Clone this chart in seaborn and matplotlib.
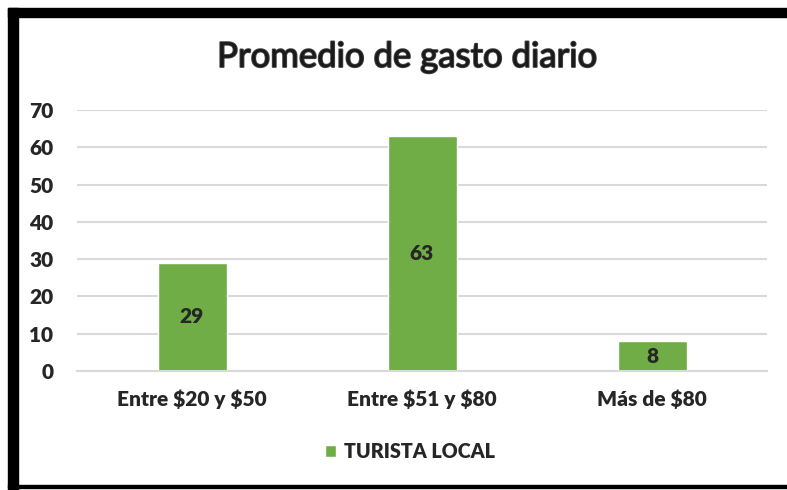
import numpy as np
import pandas as pd
import matplotlib.pyplot as plt
import matplotlib.patheffects as pe
from matplotlib.patches import Rectangle
import seaborn as sns

# Data
categories = ['Entre $20 y $50', 'Entre $51 y $80', 'Más de $80']
values = [29, 63, 8]
series = 'TURISTA LOCAL'

df = pd.DataFrame({'rango': categories, 'valor': values, 'serie': series})

sns.set_style('white')
plt.rcParams['font.family'] = ['Lato', 'DejaVu Sans']

fig = plt.figure(figsize=(7.87, 4.9), dpi=100)
ax = fig.add_axes([77 / 787, 1 - 371 / 490, 690 / 787, 261 / 490])

green = '#70AD47'
sns.barplot(data=df, x='rango', y='valor', hue='serie', palette=[green],
            width=0.3, ax=ax, saturation=1, legend=True)

ax.set_ylim(0, 70)
ax.set_xlim(-0.5, 2.5)
ax.set_yticks(np.arange(0, 71, 10))
ax.yaxis.grid(True, color='#D9D9D9', linewidth=1.5)
ax.set_axisbelow(True)
for s in ['top', 'right', 'left']:
    ax.spines[s].set_visible(False)
ax.spines['bottom'].set_color('#D9D9D9')
ax.spines['bottom'].set_linewidth(1.5)
ax.set_xlabel('')
ax.set_ylabel('')
ax.tick_params(axis='y', length=0, pad=17, labelsize=15)
ax.tick_params(axis='x', length=0, pad=13, labelsize=15)
for lbl in ax.get_xticklabels() + ax.get_yticklabels():
    lbl.set_fontweight('heavy')
    lbl.set_parse_math(False)

# value labels in middle of bars
for bars in ax.containers:
    ax.bar_label(bars, label_type='center', fontsize=15, fontweight='heavy')

# legend below
ax.legend(handles=ax.get_legend_handles_labels()[0], labels=[series],
          loc='center', bbox_to_anchor=(0.483, -0.31), frameon=False,
          prop={'weight': 'heavy', 'size': 14.2}, handlelength=0.55,
          handleheight=0.55, handletextpad=0.4)

# title with outline
fig.text(0.518, 1 - 57 / 490, 'Promedio de gasto diario', ha='center', va='center',
         fontsize=25, fontweight='normal', color='#1a1a1a',
         path_effects=[pe.withStroke(linewidth=1.3, foreground='#444444')])

# black frame
fig.patches.append(Rectangle((8 / 787, 1 - 17 / 490), 779 / 787, 9 / 490,
                             transform=fig.transFigure, color='black'))
fig.patches.append(Rectangle((8 / 787, 0), 10 / 787, 1 - 8 / 490,
                             transform=fig.transFigure, color='black'))
fig.patches.append(Rectangle((8 / 787, 2 / 490), 779 / 787, 3 / 490,
                             transform=fig.transFigure, color='black'))

fig.savefig('out.png', dpi=100)
